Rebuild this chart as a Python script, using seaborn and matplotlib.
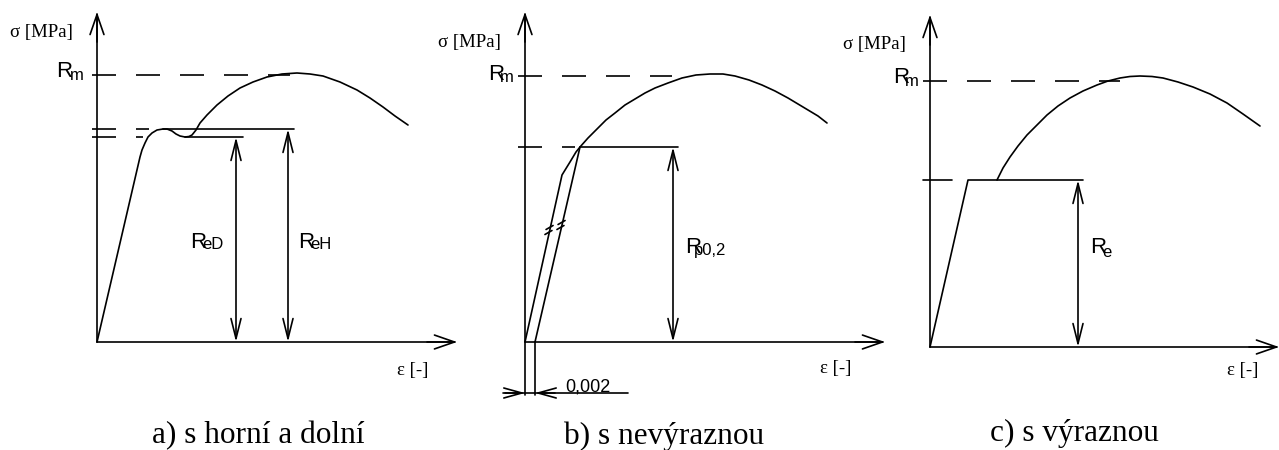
import matplotlib.pyplot as plt
import seaborn as sns

sns.set_style("white")
plt.rcParams['font.family'] = ['Liberation Sans', 'DejaVu Sans']
plt.rcParams['text.color'] = 'black'

SERIF = ['Liberation Serif', 'DejaVu Serif']
SANS = ['Liberation Sans', 'DejaVu Sans']
LW = 1.2
DASH = (14.4, 12)

# values, units ~ pixels from each panel's origin
# a) upper and lower yield point
a_strain = [0, 43, 45, 48, 51, 55, 60, 66, 70, 75, 79, 83, 88, 92, 95, 99, 103, 110, 120, 131,
            143, 156, 170, 185, 200, 213, 226, 243, 260, 273, 286, 298, 311]
a_stress = [0, 185, 192, 199, 205, 209, 212, 213, 213, 211, 208, 206, 205, 205.5, 207, 212, 219, 227, 237, 246,
            254, 260, 265, 268, 269, 268, 266, 260, 252, 244, 235, 226, 217]
a_Rm = 267
a_ReH = 213
a_ReD = 205
a_ReH_end = 197
a_ReD_end = 146
a_ReD_arrow = 139
a_ReH_arrow = 191

# b) no distinct yield point (offset 0,2 %)
b_strain = [0, 37, 45, 51, 55, 63, 73, 81, 90, 100, 110, 120, 130, 143, 157, 171, 185, 198,
            210, 224, 237, 250, 263, 273, 283, 293, 302]
b_stress = [0, 167, 180, 190, 195, 204, 214, 222, 229, 237, 243, 249, 254, 259, 264, 267, 268, 268,
            266, 262, 257, 251, 244, 238, 232, 226, 219]
b_offset = 10
b_Rm = 266
b_Rp = 195
b_Rp_end = 153
b_Rp_arrow = 148

# c) distinct yield point
c_elastic_strain = [0, 38]
c_strain = [67, 73, 80, 88, 97, 107, 117, 128, 140, 153, 167, 178, 190, 200, 210, 222, 233,
            248, 263, 280, 297, 313, 330]
c_stress = [167, 179, 190, 201, 212, 222, 232, 241, 249, 256, 262, 266, 269, 270.5, 271, 270.5, 269,
            265, 260, 253, 244, 233, 221]
c_Rm = 266
c_Re = 167
c_Re_end = 153
c_Re_arrow = 148

captions = ["a) s horní a dolní", "b) s nevýraznou", "c) s výraznou"]

fig = plt.figure(figsize=(12.79, 4.5), dpi=100)


def make_ax(left, ox, oy):
    ax = fig.add_axes([left / 1279, 0, 426 / 1279, 1])
    ax.set_xlim(left - ox, left + 426 - ox)
    ax.set_ylim(oy - 450, oy)
    ax.axis('off')
    return ax


def line(ax, xs, ys, dashed=False):
    kw = {'linestyle': (0, DASH)} if dashed else {}
    sns.lineplot(x=xs, y=ys, ax=ax, color='black', linewidth=LW, sort=False,
                 estimator=None, clip_on=False, **kw)


def arrow(ax, tail, tip, style='->', hl=14.4, hw=5):
    ax.annotate('', xy=tip, xytext=tail, annotation_clip=False,
                arrowprops=dict(arrowstyle=f'{style},head_length={hl},head_width={hw}',
                                mutation_scale=1, lw=LW, color='black',
                                shrinkA=0, shrinkB=0))


def rlabel(ax, x, y, sub, dx, dy):
    ax.text(x, y, 'R', fontsize=16, family=SANS, va='baseline', ha='left')
    ax.text(x + dx, y + dy, sub, fontsize=12, family=SANS, va='baseline', ha='left')


def axes_frame(ax, ytop, xend, ybottom=0):
    line(ax, [0, 0], [ybottom, ytop - 2])
    arrow(ax, (0, ytop - 30), (0, ytop), hw=5)
    line(ax, [0, xend - 2], [0, 0])
    arrow(ax, (xend - 30, 0), (xend, 0), hw=5)


# ---- panel a
ax = make_ax(0, 97, 342)
axes_frame(ax, 330, 360)
line(ax, a_strain, a_stress)
line(ax, [-5, 193], [a_Rm, a_Rm], dashed=True)
line(ax, [-5, 52], [a_ReH, a_ReH], dashed=True)
line(ax, [-5, 46], [a_ReD, a_ReD], dashed=True)
line(ax, [66, a_ReH_end], [a_ReH, a_ReH])
line(ax, [88, a_ReD_end], [a_ReD, a_ReD])
arrow(ax, (a_ReD_arrow, 0), (a_ReD_arrow, a_ReD), style='<->', hw=3.6)
arrow(ax, (a_ReH_arrow, 0), (a_ReH_arrow, a_ReH), style='<->', hw=3.6)
rlabel(ax, -41, 265, 'm', 14, -3)
rlabel(ax, 93, 94, 'eD', 12, -1)
rlabel(ax, 201, 94, 'eH', 12, -1)
ax.text(-87, 309, 'σ [MPa]', fontsize=13.5, family=SERIF, va='center', ha='left')
ax.text(300, -29, 'ε [-]', fontsize=13.5, family=SERIF, va='center', ha='left')
ax.text(161, -101, captions[0], fontsize=22.5, family=SERIF, va='baseline', ha='center')

# ---- panel b
ax = make_ax(426, 525, 342)
axes_frame(ax, 330, 360, ybottom=-53)
line(ax, b_strain, b_stress)
line(ax, [b_offset, b_strain[4]], [0, b_Rp])
line(ax, [b_offset, b_offset], [0, -53])
line(ax, [-7, 147], [b_Rm, b_Rm], dashed=True)
line(ax, [-7, 50], [b_Rp, b_Rp], dashed=True)
line(ax, [b_strain[4], b_Rp_end], [b_Rp, b_Rp])
arrow(ax, (b_Rp_arrow, 0), (b_Rp_arrow, b_Rp), style='<->', hw=3.6)
# dimension of the 0,002 offset
line(ax, [-22, 103], [-51, -51])
arrow(ax, (-20, -51), (0, -51), hl=13, hw=3.6)
arrow(ax, (30, -51), (b_offset, -51), hl=13, hw=3.6)
ax.text(40, -50, '0,002', fontsize=13, family=SANS, va='baseline', ha='left')
# parallel marks
for cx, cy in [(24, 112), (36, 117)]:
    for d in (-2.5, 2.5):
        line(ax, [cx - 3.5 + d * 0.22, cx + 3.5 + d * 0.22], [cy + d - 2, cy + d + 2])
rlabel(ax, -37, 262, 'm', 12, -2)
rlabel(ax, 160, 89, 'p0,2', 9, -2)
ax.text(-87, 299, 'σ [MPa]', fontsize=13.5, family=SERIF, va='center', ha='left')
ax.text(295, -27, 'ε [-]', fontsize=13.5, family=SERIF, va='center', ha='left')
ax.text(139, -102, captions[1], fontsize=22.5, family=SERIF, va='baseline', ha='center')

# ---- panel c
ax = make_ax(853, 930, 347)
axes_frame(ax, 332, 349)
line(ax, c_elastic_strain + [c_Re_end], [0, c_Re, c_Re])
line(ax, c_strain, c_stress)
line(ax, [-7, 190], [c_Rm, c_Rm], dashed=True)
line(ax, [-7, 22], [c_Re, c_Re])
arrow(ax, (c_Re_arrow, 0), (c_Re_arrow, c_Re), style='<->', hw=3.6)
rlabel(ax, -37, 264, 'm', 12, -3)
rlabel(ax, 160, 94, 'e', 12, -4)
ax.text(-87, 303, 'σ [MPa]', fontsize=13.5, family=SERIF, va='center', ha='left')
ax.text(297, -23, 'ε [-]', fontsize=13.5, family=SERIF, va='center', ha='left')
ax.text(144, -94, captions[2], fontsize=22.5, family=SERIF, va='baseline', ha='center')

fig.savefig('out.png', dpi=100, facecolor='white')
